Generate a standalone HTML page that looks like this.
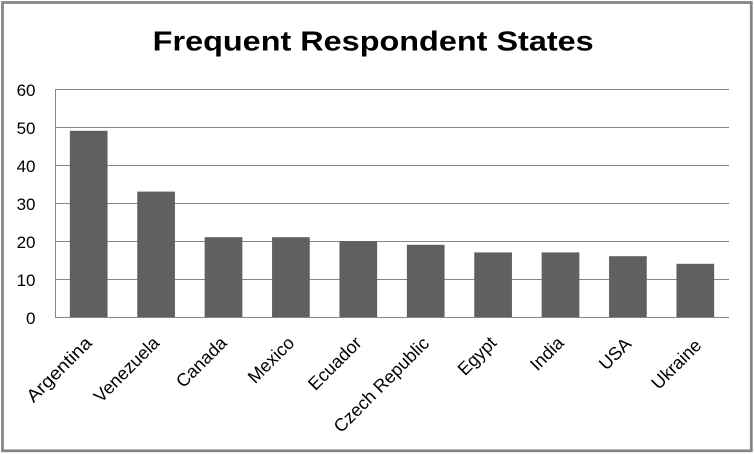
<!DOCTYPE html>
<html>
<head>
<meta charset="utf-8">
<style>
html,body{margin:0;padding:0;background:#fff;}
svg{display:block;}
</style>
</head>
<body>
<svg width="754" height="454" viewBox="0 0 754 454" xmlns="http://www.w3.org/2000/svg">
  <rect x="0" y="0" width="754" height="454" fill="#ffffff"/>
  <rect x="2.5" y="2.5" width="748.8" height="448.3" fill="none" stroke="#868686" stroke-width="2.8"/>
  <text x="152.7" y="50.5" font-family="'Liberation Sans', sans-serif" font-weight="bold" font-size="28" fill="#000" textLength="441" lengthAdjust="spacingAndGlyphs">Frequent Respondent States</text>

  <!-- gridlines -->
  <g stroke="#868686" stroke-width="1" shape-rendering="crispEdges">
    <line x1="55" y1="89.5" x2="729" y2="89.5"/>
    <line x1="55" y1="127.5" x2="729" y2="127.5"/>
    <line x1="55" y1="165.5" x2="729" y2="165.5"/>
    <line x1="55" y1="203.5" x2="729" y2="203.5"/>
    <line x1="55" y1="241.5" x2="729" y2="241.5"/>
    <line x1="55" y1="279.5" x2="729" y2="279.5"/>
    <line x1="55" y1="317.5" x2="729" y2="317.5"/>
    <line x1="55.5" y1="89" x2="55.5" y2="318"/>
  </g>

  <!-- bars -->
  <g fill="#606060">
    <rect x="69.85" y="130.8" width="37.7" height="186.2"/>
    <rect x="137.25" y="191.6" width="37.7" height="125.4"/>
    <rect x="204.65" y="237.2" width="37.7" height="79.8"/>
    <rect x="272.05" y="237.2" width="37.7" height="79.8"/>
    <rect x="339.45" y="241" width="37.7" height="76"/>
    <rect x="406.85" y="244.8" width="37.7" height="72.2"/>
    <rect x="474.25" y="252.4" width="37.7" height="64.6"/>
    <rect x="541.65" y="252.4" width="37.7" height="64.6"/>
    <rect x="609.05" y="256.2" width="37.7" height="60.8"/>
    <rect x="676.45" y="263.8" width="37.7" height="53.2"/>
  </g>

  <!-- y tick labels -->
  <g font-family="'Liberation Sans', sans-serif" font-size="17" fill="#000" text-anchor="end">
    <text x="35.5" y="96">60</text>
    <text x="35.5" y="134">50</text>
    <text x="35.5" y="172">40</text>
    <text x="35.5" y="210">30</text>
    <text x="35.5" y="248">20</text>
    <text x="35.5" y="286">10</text>
    <text x="35.5" y="324">0</text>
  </g>

  <!-- x labels -->
  <g font-family="'Liberation Sans', sans-serif" font-size="18" fill="#000" text-anchor="end">
    <text transform="translate(93,344) rotate(-45)" textLength="84" lengthAdjust="spacingAndGlyphs">Argentina</text>
    <text transform="translate(160.5,344) rotate(-45)">Venezuela</text>
    <text transform="translate(228,344) rotate(-45)">Canada</text>
    <text transform="translate(295.4,344) rotate(-45)">Mexico</text>
    <text transform="translate(362.8,344) rotate(-45)">Ecuador</text>
    <text transform="translate(430.2,344.5) rotate(-45)">Czech Republic</text>
    <text transform="translate(497.6,344) rotate(-45)">Egypt</text>
    <text transform="translate(565,344) rotate(-45)">India</text>
    <text transform="translate(632.4,345) rotate(-45)">USA</text>
    <text transform="translate(702.5,346.5) rotate(-45)">Ukraine</text>
  </g>
</svg>
</body>
</html>
